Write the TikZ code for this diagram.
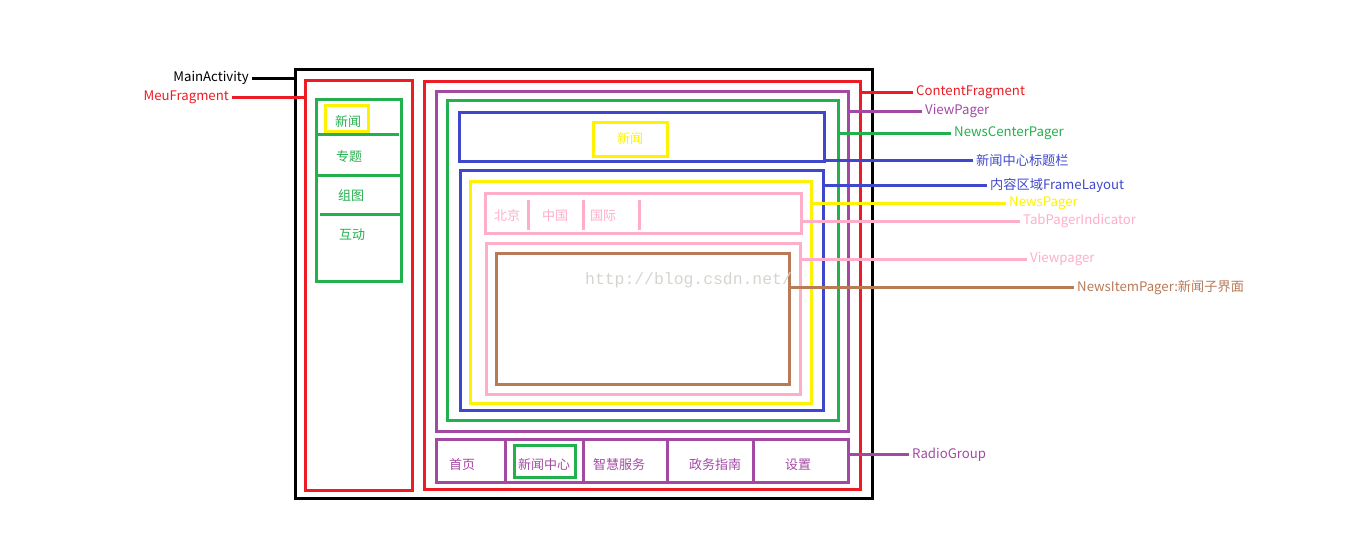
\documentclass[tikz,border=0pt]{standalone}
\usepackage{fontspec}
\setmainfont{Noto Sans CJK SC}
\newfontfamily\markfont{Liberation Mono}
\usepackage{tikz}
\usetikzlibrary{positioning}

\definecolor{cRed}{HTML}{ED1C24}
\definecolor{cPurple}{HTML}{A349A4}
\definecolor{cGreen}{HTML}{22B14C}
\definecolor{cBlue}{HTML}{3F48CC}
\definecolor{cYellow}{HTML}{FFF200}
\definecolor{cPink}{HTML}{FFAEC9}
\definecolor{cBrown}{HTML}{B97A57}
\definecolor{cMark}{HTML}{D6D4CE}

\begin{document}
\begin{tikzpicture}[
  x=1pt, y=-1pt,
  frame/.style={
    draw=#1, line width=3pt, inner sep=0pt, outer sep=0pt,
    anchor=north west
  },
  lbl/.style={text=#1, anchor=west, inner sep=3pt, font=\fontsize{13.2}{15}\selectfont},
  item/.style={text=#1, inner sep=0pt, font=\fontsize{13}{15}\selectfont},
  lead/.style={draw=#1, line width=3pt}
]
\useasboundingbox (0,0) rectangle (1360,539);

% outer frames
\node[frame=black, minimum width=577, minimum height=429] (main) at (295,69) {};
\node[frame=cRed, minimum width=107, minimum height=410] (meu) at (305,80) {};
\node[frame=cRed, minimum width=436, minimum height=408] (content) at (424,81) {};

% left menu
\node[frame=cGreen, minimum width=85, minimum height=182] (menu) at (316,99) {};
\node[frame=cYellow, minimum width=43, minimum height=26] (menuSel) at (325,105) {};
\draw[lead=cGreen] (318,134) -- (399,134);
\draw[lead=cGreen] (316,175) -- (401,175);
\draw[lead=cGreen] (320,214) -- (400,214);
\node[item=cGreen] (mNews) at (348,122) {新闻};
\node[item=cGreen] (mTopic) at (349,157) {专题};
\node[item=cGreen] (mPhoto) at (351,196) {组图};
\node[item=cGreen] (mTalk) at (352,235) {互动};

% content area
\node[frame=cPurple, minimum width=412, minimum height=340] (vpager) at (436,91) {};
\node[frame=cGreen, minimum width=391, minimum height=320] (center) at (447,100) {};
\node[frame=cBlue, minimum width=365, minimum height=49] (title) at (459,112) {};
\node[frame=cYellow, minimum width=74, minimum height=34] (titleSel) at (593,122) {};
\node[item=cYellow] (tNews) at (titleSel.center) {新闻};
\node[frame=cBlue, minimum width=363, minimum height=240] (frameArea) at (460,170) {};
\node[frame=cYellow, minimum width=341, minimum height=222] (newsPager) at (470,181) {};
\node[frame=cPink, minimum width=316, minimum height=40] (tabs) at (485,193) {};
\foreach \x in {528,583,639}
  \draw[lead=cPink] (\x,200) -- (\x,230);
\node[item=cPink] (tBeijing) at (507,216) {北京};
\node[item=cPink] (tChina) at (555,216) {中国};
\node[item=cPink] (tWorld) at (603,216) {国际};
\node[frame=cPink, minimum width=314, minimum height=151] (innerVp) at (486,243) {};
\node[frame=cBrown, minimum width=293, minimum height=131] (itemPager) at (496,253) {};
\node[text=cMark, anchor=west, inner sep=0pt, font=\markfont\fontsize{16.4}{18}\selectfont]
  (mark) at (585,280) {http://blog.csdn.net/};

% bottom radio group
\node[frame=cPurple, minimum width=412, minimum height=43] (radio) at (436,439) {};
\foreach \x in {505,583,667,753}
  \draw[lead=cPurple] (\x,439) -- (\x,482);
\node[frame=cGreen, minimum width=61, minimum height=32] (radioSel) at (514,445) {};
\node[item=cPurple] (rHome) at (462,465) {首页};
\node[item=cPurple] (rNews) at (544,465) {新闻中心};
\node[item=cPurple] (rSmart) at (619,465) {智慧服务};
\node[item=cPurple] (rGov) at (715,465) {政务指南};
\node[item=cPurple] (rSet) at (798,465) {设置};

% labels
\node[lbl=black, anchor=east] (lMain) at (252,78) {MainActivity};
\node[lbl=cRed, anchor=east] (lMeu) at (232,97.5) {MeuFragment};
\node[lbl=cRed] (lContent) at (913,92) {ContentFragment};
\node[lbl=cPurple] (lVpager) at (922,111) {ViewPager};
\node[lbl=cGreen] (lCenter) at (951,133.5) {NewsCenterPager};
\node[lbl=cBlue] (lTitle) at (973,160) {新闻中心标题栏};
\node[lbl=cBlue] (lFrame) at (987,185.5) {内容区域FrameLayout};
\node[lbl=cYellow] (lNews) at (1006,203) {NewsPager};
\node[lbl=cPink] (lTabs) at (1020,221) {TabPagerIndicator};
\node[lbl=cPink] (lInner) at (1027,259) {Viewpager};
\node[lbl=cBrown] (lItem) at (1074,287.5) {NewsItemPager:新闻子界面};
\node[lbl=cPurple] (lRadio) at (909,454.5) {RadioGroup};

% leaders
\draw[lead=black] (lMain.east) -- (lMain.east -| main.west);
\draw[lead=cRed] (lMeu.east) -- (lMeu.east -| meu.west);
\draw[lead=cRed] (content.east |- lContent.west) -- (lContent.west);
\draw[lead=cPurple] (vpager.east |- lVpager.west) -- (lVpager.west);
\draw[lead=cGreen] (center.east |- lCenter.west) -- (lCenter.west);
\draw[lead=cBlue] (title.east |- lTitle.west) -- (lTitle.west);
\draw[lead=cBlue] (frameArea.east |- lFrame.west) -- (lFrame.west);
\draw[lead=cYellow] (newsPager.east |- lNews.west) -- (lNews.west);
\draw[lead=cPink] (tabs.east |- lTabs.west) -- (lTabs.west);
\draw[lead=cPink] (innerVp.east |- lInner.west) -- (lInner.west);
\draw[lead=cBrown] (itemPager.east |- lItem.west) -- (lItem.west);
\draw[lead=cPurple] (radio.east |- lRadio.west) -- (lRadio.west);
\end{tikzpicture}
\end{document}
